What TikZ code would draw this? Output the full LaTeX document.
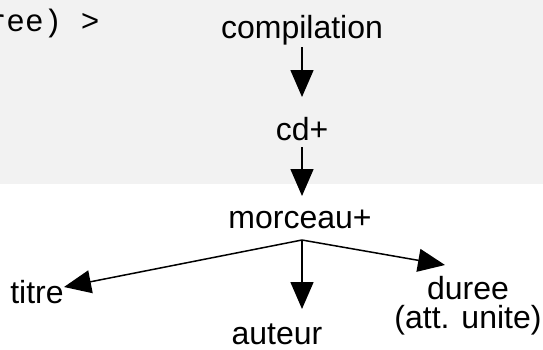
\documentclass[tikz,border=0pt]{standalone}
\usepackage{fontspec}
\setmainfont{Liberation Sans}
\newfontfamily\monof{Liberation Mono}
\usetikzlibrary{arrows.meta}
\definecolor{bgcol}{HTML}{F2F2F2}
\begin{document}
\begin{tikzpicture}[x=1bp,y=-1bp,
  lbl/.style={font=\fontsize{32bp}{36bp}\selectfont, inner sep=0pt, anchor=base},
  arr/.style={line width=1.5bp, -{Triangle[length=27bp,width=23bp]}}]
\useasboundingbox (0,0) rectangle (543,349);
\fill[bgcol] (0,0) rectangle (543,184);
\begin{scope}
\clip (0,0) rectangle (543,349);
\node[lbl, anchor=base west, font=\fontsize{31bp}{36bp}\monof] (code) at (-12.3,31) {ree) >};
\end{scope}
\node[lbl] (compilation) at (302,38) {compilation};
\node[lbl] (cd) at (302,140) {cd+};
\node[lbl] (morceau) at (300,228) {morceau+};
\node[lbl] (titre) at (37,303) {titre};
\node[lbl] (auteur) at (277,344) {auteur};
\node[lbl, align=center, anchor=base] (duree) at (468,328) {duree\\[-7bp](att. unite)};
\coordinate (c1) at (302,47);
\coordinate (c2) at (302,97);
\coordinate (c3) at (302,147);
\coordinate (c4) at (302,196);
\coordinate (mb) at (302,240);
\coordinate (tt) at (64,287);
\coordinate (at) at (302,309);
\coordinate (dt) at (445,265);
\draw[arr] (c1) -- (c2);
\draw[arr] (c3) -- (c4);
\draw[arr] (mb) -- (tt);
\draw[arr] (mb) -- (at);
\draw[arr] (mb) -- (dt);
\end{tikzpicture}
\end{document}
